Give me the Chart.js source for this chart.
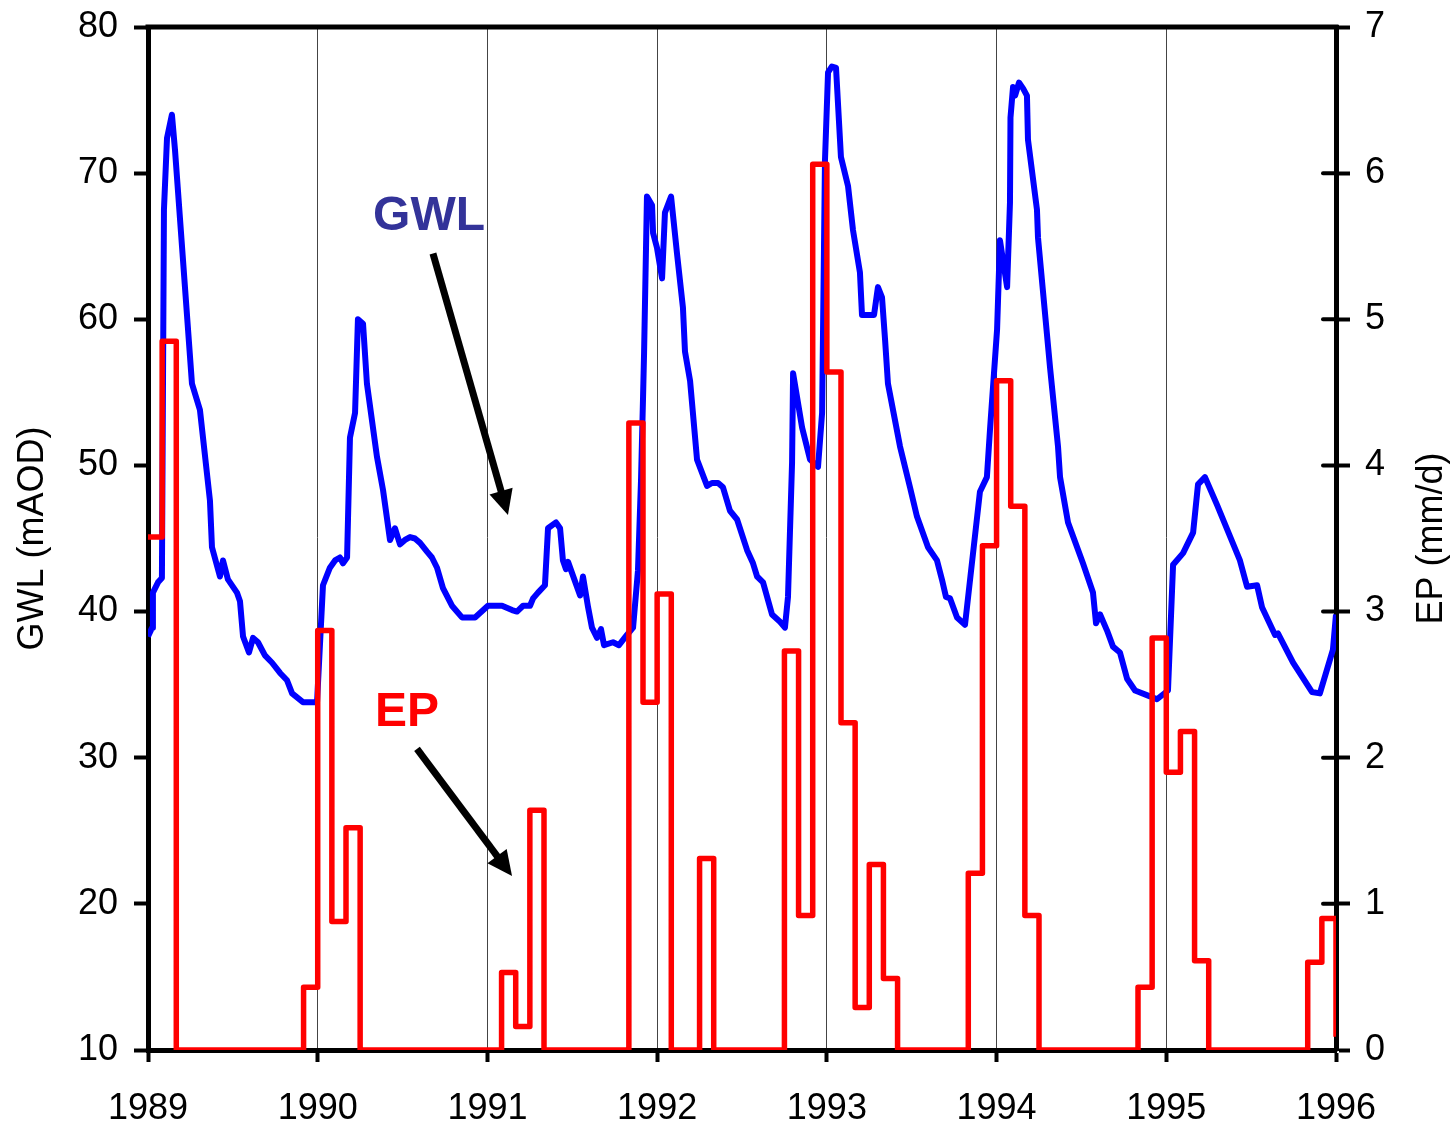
<!DOCTYPE html>
<html lang="en">
<head>
    <meta charset="UTF-8">
    <meta name="viewport" content="width=device-width, initial-scale=1.0">
    <title>GWL - EP</title>
    <style>
        body { margin: 0; background: #fff; }
    </style>
</head>
<body>

    <canvas id="myChart" width="1455" height="1127"></canvas>
    <script src="https://cdn.jsdelivr.net/npm/chart.js"></script>

    <script>
        // groundwater level, decimal year / mAOD
        const gwlYears = [
            1989.000, 1989.024, 1989.029, 1989.059, 1989.082, 1989.094, 1989.112, 1989.141, 1989.159, 1989.259,
            1989.306, 1989.365, 1989.377, 1989.424, 1989.442, 1989.471, 1989.524, 1989.542, 1989.560, 1989.595,
            1989.619, 1989.648, 1989.689, 1989.731, 1989.778, 1989.819, 1989.849, 1989.913, 1989.996, 1990.031,
            1990.072, 1990.102, 1990.131, 1990.149, 1990.173, 1990.190, 1990.220, 1990.237, 1990.267, 1990.290,
            1990.349, 1990.385, 1990.426, 1990.455, 1990.485, 1990.514, 1990.544, 1990.573, 1990.603, 1990.644,
            1990.673, 1990.703, 1990.738, 1990.791, 1990.850, 1990.927, 1991.003, 1991.086, 1991.145, 1991.174,
            1991.210, 1991.251, 1991.269, 1991.298, 1991.339, 1991.357, 1991.404, 1991.428, 1991.445, 1991.463,
            1991.475, 1991.546, 1991.563, 1991.593, 1991.616, 1991.646, 1991.669, 1991.687, 1991.740, 1991.775,
            1991.822, 1991.858, 1991.887, 1991.905, 1991.917, 1991.923, 1991.940, 1991.970, 1991.976, 1991.999,
            1992.029, 1992.046, 1992.082, 1992.117, 1992.152, 1992.164, 1992.194, 1992.235, 1992.294, 1992.323,
            1992.359, 1992.388, 1992.429, 1992.471, 1992.530, 1992.565, 1992.589, 1992.624, 1992.677, 1992.724,
            1992.753, 1992.771, 1992.795, 1992.801, 1992.854, 1992.901, 1992.948, 1992.972, 1992.989, 1993.007,
            1993.030, 1993.054, 1993.083, 1993.125, 1993.154, 1993.195, 1993.207, 1993.278, 1993.301, 1993.325,
            1993.343, 1993.360, 1993.431, 1993.490, 1993.531, 1993.596, 1993.649, 1993.678, 1993.702, 1993.726,
            1993.767, 1993.814, 1993.902, 1993.943, 1993.961, 1994.003, 1994.020, 1994.062, 1994.079, 1994.082,
            1994.097, 1994.109, 1994.132, 1994.156, 1994.179, 1994.185, 1994.238, 1994.244, 1994.315, 1994.362,
            1994.374, 1994.421, 1994.509, 1994.568, 1994.586, 1994.610, 1994.651, 1994.686, 1994.727, 1994.769,
            1994.816, 1994.904, 1994.945, 1995.010, 1995.040, 1995.099, 1995.158, 1995.187, 1995.228, 1995.299,
            1995.434, 1995.476, 1995.535, 1995.564, 1995.641, 1995.658, 1995.747, 1995.858, 1995.905, 1995.982,
            1996.000
        ]
        const gwlLevels = [
            38.3, 38.9, 41.3, 42.0, 42.3, 67.5, 72.4, 74.0, 71.6, 55.6,
            53.8, 47.6, 44.4, 42.4, 43.5, 42.2, 41.3, 40.7, 38.3, 37.2,
            38.2, 37.9, 37.0, 36.5, 35.8, 35.3, 34.4, 33.8, 33.8, 41.8,
            43.0, 43.5, 43.7, 43.3, 43.7, 51.9, 53.6, 60.0, 59.7, 55.6,
            50.6, 48.3, 44.9, 45.7, 44.6, 44.9, 45.1, 45.0, 44.7, 44.1,
            43.7, 43.0, 41.6, 40.4, 39.6, 39.6, 40.4, 40.4, 40.1, 40.0,
            40.4, 40.4, 40.9, 41.3, 41.8, 45.7, 46.1, 45.7, 43.5, 42.9,
            43.4, 41.1, 42.4, 40.3, 38.9, 38.2, 38.8, 37.7, 37.9, 37.7,
            38.4, 38.9, 42.8, 49.0, 54.7, 57.7, 68.4, 67.8, 65.9, 64.9,
            62.8, 67.3, 68.4, 64.5, 60.8, 57.8, 55.8, 50.4, 48.6, 48.8,
            48.8, 48.5, 46.9, 46.3, 44.2, 43.3, 42.4, 42.0, 39.8, 39.3,
            38.9, 41.0, 50.2, 56.3, 52.6, 50.4, 49.9, 53.6, 70.9, 76.9,
            77.3, 77.2, 71.1, 69.1, 66.1, 63.2, 60.3, 60.3, 62.2, 61.5,
            58.6, 55.6, 51.3, 48.5, 46.5, 44.4, 43.5, 42.2, 41.0, 40.9,
            39.6, 39.1, 48.2, 49.2, 52.4, 59.3, 65.4, 62.2, 68.0, 73.8,
            75.9, 75.3, 76.2, 75.8, 75.3, 72.3, 67.5, 65.6, 56.7, 51.3,
            49.2, 46.1, 43.3, 41.3, 39.2, 39.8, 38.7, 37.6, 37.2, 35.4,
            34.6, 34.2, 34.0, 34.6, 43.2, 44.0, 45.4, 48.7, 49.2, 47.3,
            43.5, 41.7, 41.8, 40.3, 38.4, 38.5, 36.5, 34.5, 34.4, 37.4,
            39.8
        ]

        // effective precipitation, mm/d, one value per month from Jan 1989 (last one closes Jan 1996)
        const epStart = 1989
        const epMonthly = [
            3.51, 4.85, 0, 0, 0, 0, 0, 0, 0, 0, 0, 0.43,
            2.87, 0.88, 1.52, 0, 0, 0, 0, 0, 0, 0, 0, 0,
            0, 0.53, 0.16, 1.64, 0, 0, 0, 0, 0, 0, 4.29, 2.38,
            3.12, 0, 0, 1.31, 0, 0, 0, 0, 0, 2.73, 0.92, 6.06,
            4.64, 2.24, 0.29, 1.27, 0.49, 0, 0, 0, 0, 0, 1.21, 3.45,
            4.58, 3.72, 0.92, 0, 0, 0, 0, 0, 0, 0, 0.43, 2.82,
            1.90, 2.18, 0.61, 0, 0, 0, 0, 0, 0, 0, 0.60, 0.90,
            0.09
        ]

        const gwlTicks = [10, 20, 30, 40, 50, 60, 70, 80]
        const epTicks = [0, 1, 2, 3, 4, 5, 6, 7]
        const yearTicks = [1989, 1990, 1991, 1992, 1993, 1994, 1995, 1996]

        // annotation texts and arrows (data coordinates on x / left axis)
        const notes = [
            { text: 'GWL', color: '#333399', x: 1990.326, y: 66.1 },
            { text: 'EP', color: '#ff0000', x: 1990.338, y: 32.2 }
        ]
        const arrows = [
            { from: [1990.679, 64.5], to: [1991.121, 46.6] },
            { from: [1990.585, 30.6], to: [1991.145, 21.9] }
        ]

        const gwlPoints = gwlYears.map((t, i) => ({ x: t, y: gwlLevels[i] }))
        const epPoints = epMonthly.map((v, i) => ({ x: epStart + i / 12, y: v }))

        const FONT = '"Liberation Sans", Arial, Helvetica, sans-serif'
        Chart.defaults.font.family = FONT
        Chart.defaults.color = '#000'

        // keep the plot box fixed, whatever the label sizes
        const fixBox = (w, h) => s => {
            if (w) s.width = w
            if (h) s.height = h
            s.paddingTop = 0
            s.paddingBottom = 0
            s.paddingLeft = 0
            s.paddingRight = 0
        }

        const extras = {
            id: 'extras',
            afterDraw(chart) {
                const { ctx, chartArea: a, scales } = chart
                const x = scales.x, y = scales.y, y1 = scales.y1
                ctx.save()

                // top frame line
                ctx.strokeStyle = '#000'
                ctx.lineWidth = 5
                ctx.beginPath()
                ctx.moveTo(a.left - 2.5, a.top)
                ctx.lineTo(a.right + 2.5, a.top)
                ctx.stroke()

                // right axis ticks also go inside
                ctx.lineWidth = 4
                ctx.lineCap = 'round'
                epTicks.forEach(v => {
                    const py = y1.getPixelForValue(v)
                    ctx.beginPath()
                    ctx.moveTo(a.right - 13, py)
                    ctx.lineTo(a.right, py)
                    ctx.stroke()
                })

                // right axis title, reads bottom to top
                ctx.save()
                ctx.font = '36px ' + FONT
                ctx.fillStyle = '#000'
                ctx.textAlign = 'center'
                ctx.textBaseline = 'middle'
                ctx.translate(a.right + 96, (a.top + a.bottom) / 2)
                ctx.rotate(-Math.PI / 2)
                ctx.fillText('EP (mm/d)', 0, 0)
                ctx.restore()

                // labels
                ctx.font = 'bold 48px ' + FONT
                ctx.textAlign = 'left'
                ctx.textBaseline = 'alphabetic'
                notes.forEach(n => {
                    ctx.fillStyle = n.color
                    ctx.fillText(n.text, x.getPixelForValue(n.x), y.getPixelForValue(n.y))
                })

                // arrows
                ctx.strokeStyle = '#000'
                ctx.fillStyle = '#000'
                ctx.lineCap = 'butt'
                arrows.forEach(ar => {
                    const x0 = x.getPixelForValue(ar.from[0]), y0 = y.getPixelForValue(ar.from[1])
                    const x1 = x.getPixelForValue(ar.to[0]), y1p = y.getPixelForValue(ar.to[1])
                    const ang = Math.atan2(y1p - y0, x1 - x0)
                    const headLen = 25, headW = 12
                    const bx = x1 - headLen * Math.cos(ang), by = y1p - headLen * Math.sin(ang)
                    ctx.lineWidth = 7
                    ctx.beginPath()
                    ctx.moveTo(x0, y0)
                    ctx.lineTo(bx + 2 * Math.cos(ang), by + 2 * Math.sin(ang))
                    ctx.stroke()
                    ctx.beginPath()
                    ctx.moveTo(x1, y1p)
                    ctx.lineTo(bx - headW * Math.sin(ang), by + headW * Math.cos(ang))
                    ctx.lineTo(bx + headW * Math.sin(ang), by - headW * Math.cos(ang))
                    ctx.closePath()
                    ctx.fill()
                })

                ctx.restore()
            }
        }

        var ctx = document.getElementById('myChart')
        var myChart = new Chart(ctx, {
            type: 'line',
            data: {
                datasets: [{
                    label: 'EP',
                    data: epPoints,
                    yAxisID: 'y1',
                    borderColor: '#ff0000',
                    borderWidth: 5.5,
                    pointRadius: 0,
                    stepped: 'before',
                    borderJoinStyle: 'round',
                    fill: false
                }, {
                    label: 'GWL',
                    data: gwlPoints,
                    yAxisID: 'y',
                    borderColor: '#0000ff',
                    borderWidth: 6,
                    pointRadius: 0,
                    tension: 0,
                    borderJoinStyle: 'round',
                    fill: false
                }]
            },
            options: {
                responsive: false,
                animation: false,
                layout: { padding: { top: 27, left: 0, right: 0, bottom: 0 } },
                plugins: {
                    legend: { display: false },
                    tooltip: { enabled: false }
                },
                scales: {
                    x: {
                        type: 'linear',
                        min: 1989,
                        max: 1996,
                        afterBuildTicks: s => { s.ticks = yearTicks.map(v => ({ value: v })) },
                        afterFit: fixBox(0, 77),
                        ticks: {
                            font: { size: 36 },
                            padding: 25,
                            maxRotation: 0,
                            callback: v => String(v)
                        },
                        grid: {
                            color: '#444',
                            lineWidth: 1,
                            tickLength: 12,
                            tickColor: '#000',
                            tickWidth: 4
                        },
                        border: { color: '#000', width: 5 }
                    },
                    y: {
                        position: 'left',
                        min: 10,
                        max: 80,
                        afterBuildTicks: s => { s.ticks = gwlTicks.map(v => ({ value: v })) },
                        afterFit: fixBox(148, 0),
                        ticks: { font: { size: 36 }, padding: 16 },
                        grid: {
                            drawOnChartArea: false,
                            tickLength: 14,
                            tickColor: '#000',
                            tickWidth: 4
                        },
                        border: { color: '#000', width: 5 },
                        title: {
                            display: true,
                            text: 'GWL (mAOD)',
                            font: { size: 36 },
                            padding: { top: 11, bottom: 0 }
                        }
                    },
                    y1: {
                        position: 'right',
                        min: 0,
                        max: 7,
                        afterBuildTicks: s => { s.ticks = epTicks.map(v => ({ value: v })) },
                        afterFit: fixBox(119, 0),
                        ticks: { font: { size: 36 }, padding: 15 },
                        grid: {
                            drawOnChartArea: false,
                            tickLength: 14,
                            tickColor: '#000',
                            tickWidth: 4
                        },
                        border: { color: '#000', width: 5 }
                    }
                }
            },
            plugins: [extras]
        })
    </script>

</body>
</html>
